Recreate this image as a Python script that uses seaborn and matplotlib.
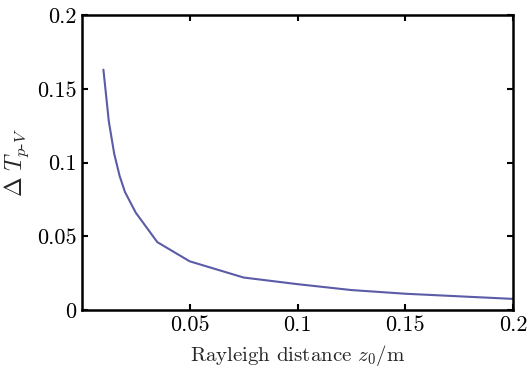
# Rayleigh distance vs Delta T_{p-V} curve

import numpy as np
import pandas as pd
import matplotlib
matplotlib.use("Agg")
import matplotlib.pyplot as plt
import seaborn as sns

# ---------- data ----------
z0 = [0.01, 0.0125, 0.015, 0.0175, 0.02, 0.025, 0.035, 0.05, 0.075, 0.1, 0.125, 0.15, 0.2]
dT = [0.163, 0.128, 0.106, 0.091, 0.080, 0.066, 0.046, 0.033, 0.022, 0.0175, 0.0135, 0.011, 0.0075]

x_ticks = [0.05, 0.1, 0.15, 0.2]
x_tick_labels = ["0.05", "0.1", "0.15", "0.2"]
y_ticks = [0, 0.05, 0.1, 0.15, 0.2]
y_tick_labels = ["0", "0.05", "0.1", "0.15", "0.2"]

df = pd.DataFrame({"z0": z0, "dT": dT})

# ---------- style ----------
sns.set_style("ticks")
plt.rcParams["font.family"] = ["cmr10", "DejaVu Serif"]
plt.rcParams["mathtext.fontset"] = "cm"
plt.rcParams["axes.formatter.use_mathtext"] = True

fig = plt.figure(figsize=(5.28, 3.69), dpi=100)
ax = fig.add_axes([0.155, 0.160, 0.817, 0.799])

sns.lineplot(data=df, x="z0", y="dT", color="#5b5ba8", linewidth=1.5, ax=ax)

ax.set_xlim(0, 0.2)
ax.set_ylim(0, 0.2)

ax.set_xticks(x_ticks)
ax.set_xticklabels(x_tick_labels)
ax.set_yticks(y_ticks)
ax.set_yticklabels(y_tick_labels)

ax.tick_params(direction="in", length=4, width=1.5, top=True, right=True,
               labelsize=16, colors="black", pad=4)
for side in ax.spines.values():
    side.set_linewidth(1.8)
    side.set_color("black")

ax.set_xlabel(r"Rayleigh distance $z_0/\mathrm{m}$", fontsize=15, labelpad=6)
ax.set_ylabel(r"$\Delta\ T_{p\text{-}V}$", fontsize=17, labelpad=4)

fig.savefig("out.png", dpi=100)
